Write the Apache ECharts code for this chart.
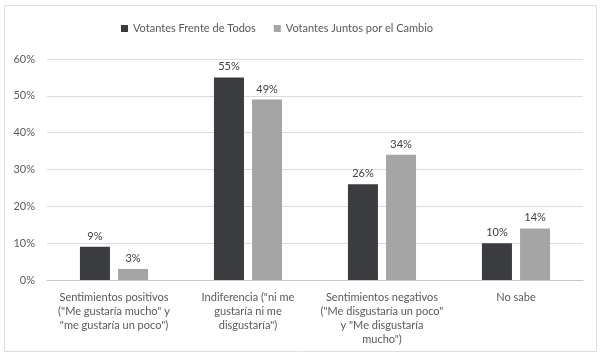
<!DOCTYPE html>
<html>
<head>
<meta charset="utf-8">
<script src="https://cdn.jsdelivr.net/npm/echarts@6/dist/echarts.min.js"></script>
<style>
  html, body { margin: 0; padding: 0; background: #fff; }
  #chart { width: 608px; height: 362px; }
</style>
</head>
<body>
<div id="chart"></div>
<script>
var categorias = [
  'Sentimientos positivos\n("Me gustaría mucho" y\n"me gustaría un poco")',
  'Indiferencia ("ni me\ngustaría ni me\ndisgustaría")',
  'Sentimientos negativos\n("Me disgustaría un poco"\ny "Me disgustaría\nmucho")',
  'No sabe'
];
var frenteDeTodos = [9, 55, 26, 10];
var juntosPorElCambio = [3, 49, 34, 14];
var yTicks = [0, 10, 20, 30, 40, 50, 60];

var fuente = 'Lato';
var chart = echarts.init(document.getElementById('chart'));

chart.setOption({
  animation: false,
  textStyle: { fontFamily: fuente },
  graphic: [{
    type: 'rect',
    shape: { x: 4.5, y: 5.5, width: 592, height: 346 },
    style: { fill: 'none', stroke: '#dedede', lineWidth: 1 },
    silent: true
  }],
  legend: {
    top: 18,
    left: 116,
    itemWidth: 7,
    itemHeight: 7,
    itemGap: 18,
    icon: 'rect',
    textStyle: { color: '#595959', fontSize: 11, fontFamily: fuente },
    data: ['Votantes Frente de Todos', 'Votantes Juntos por el Cambio']
  },
  grid: { left: 47, right: 25, top: 59, bottom: 82 },
  xAxis: {
    type: 'category',
    data: categorias,
    axisTick: { show: false },
    axisLine: { lineStyle: { color: '#c8c8c8' } },
    axisLabel: {
      interval: 0,
      color: '#595959',
      fontSize: 11,
      lineHeight: 14,
      margin: 10,
      fontFamily: fuente
    }
  },
  yAxis: {
    type: 'value',
    min: yTicks[0],
    max: yTicks[yTicks.length - 1],
    interval: 10,
    axisLabel: {
      color: '#595959',
      fontSize: 11,
      margin: 12,
      fontFamily: fuente,
      formatter: '{value}%'
    },
    splitLine: { lineStyle: { color: '#dcdcdc' } },
    axisLine: { show: false },
    axisTick: { show: false }
  },
  series: [
    {
      name: 'Votantes Frente de Todos',
      type: 'bar',
      data: frenteDeTodos,
      barWidth: 30,
      barGap: '27%',
      itemStyle: { color: '#3a3c3f' },
      label: {
        show: true,
        position: 'top',
        distance: 5,
        color: '#404040',
        fontSize: 11,
        fontFamily: fuente,
        formatter: '{c}%'
      }
    },
    {
      name: 'Votantes Juntos por el Cambio',
      type: 'bar',
      data: juntosPorElCambio,
      barWidth: 30,
      itemStyle: { color: '#a5a5a5' },
      label: {
        show: true,
        position: 'top',
        distance: 5,
        color: '#404040',
        fontSize: 11,
        fontFamily: fuente,
        formatter: '{c}%'
      }
    }
  ]
});
</script>
</body>
</html>
